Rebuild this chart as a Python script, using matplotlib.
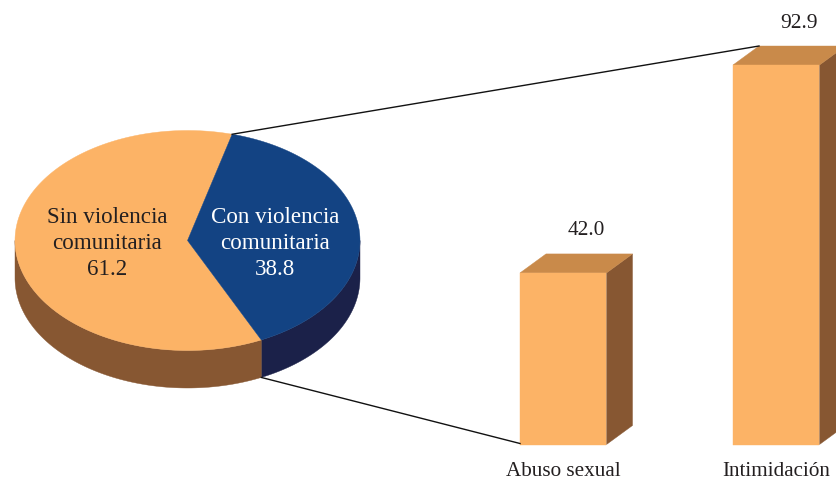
import numpy as np
import matplotlib
matplotlib.use("Agg")
import matplotlib.pyplot as plt
from matplotlib.patches import Polygon

# data
pie_labels = ["Sin violencia\ncomunitaria", "Con violencia\ncomunitaria"]
pie_values = [61.2, 38.8]
bar_labels = ["Abuso sexual", "Intimidación"]
bar_values = [42.0, 92.9]

ORANGE = "#FCB366"
ORANGE_TOP = "#C98A4A"
BROWN = "#875732"
BLUE = "#134383"
NAVY = "#1B2149"
TEXT = "#231F20"

plt.rcParams["font.family"] = ["Liberation Serif", "DejaVu Serif"]

# layout, in figure pixels
cx, cy, rx, ry, depth = 187.5, 240.5, 172.5, 110.0, 37.5
start_angle = 75.0
bar_lefts = [520, 733]
bar_width = 86.5
bar_base = 444.5
px_per_unit = 4.085
dx, dy = 26, 19


def ellipse(t_deg, shift=0.0):
    t = np.radians(t_deg)
    return np.column_stack([cx + rx * np.cos(t), cy - ry * np.sin(t) + shift])


fig = plt.figure(figsize=(8.37, 4.78), dpi=100)
ax = fig.add_axes([0, 0, 1, 1])
ax.set_xlim(0, 837)
ax.set_ylim(478, 0)
ax.axis("off")

# pie
blue_sweep = pie_values[1] / sum(pie_values) * 360
end_angle = start_angle - blue_sweep

arc = np.linspace(end_angle, 0, 80)
ax.add_patch(Polygon(np.vstack([ellipse(arc), ellipse(arc[::-1], depth)]), fc=NAVY, ec=NAVY, lw=0.3))
arc = np.linspace(-180, end_angle, 160)
ax.add_patch(Polygon(np.vstack([ellipse(arc), ellipse(arc[::-1], depth)]), fc=BROWN, ec=BROWN, lw=0.3))

arc = np.linspace(start_angle, start_angle + 360 - blue_sweep, 300)
ax.add_patch(Polygon(np.vstack([[[cx, cy]], ellipse(arc)]), fc=ORANGE, ec=ORANGE, lw=0.3))
arc = np.linspace(end_angle, start_angle, 120)
ax.add_patch(Polygon(np.vstack([[[cx, cy]], ellipse(arc)]), fc=BLUE, ec=BLUE, lw=0.3))

pie_text_x = [107.5, 275]
pie_text_colors = [TEXT, "white"]
for label, value, x, color in zip(pie_labels, pie_values, pie_text_x, pie_text_colors):
    ax.text(x, 243.5, f"{label}\n{value:.1f}", ha="center", va="center", fontsize=16.6,
            color=color, linespacing=1.3, multialignment="center")

# bars
for left, value, label in zip(bar_lefts, bar_values, bar_labels):
    top = bar_base - value * px_per_unit
    right = left + bar_width
    ax.add_patch(Polygon([(right, top), (right + dx, top - dy), (right + dx, bar_base - dy), (right, bar_base)],
                         fc=BROWN, ec=BROWN, lw=0.3))
    ax.add_patch(Polygon([(left, top), (left + dx, top - dy), (right + dx, top - dy), (right, top)],
                         fc=ORANGE_TOP, ec=ORANGE_TOP, lw=0.3))
    ax.add_patch(Polygon([(left, top), (right, top), (right, bar_base), (left, bar_base)],
                         fc=ORANGE, ec=ORANGE, lw=0.3))
    ax.text(left + 66.5, top - 37.5, f"{value:.1f}", ha="center", va="baseline", fontsize=15.4, color=TEXT)
    ax.text(left + 43.5, 476, label, ha="center", va="baseline", fontsize=15.2, color=TEXT)

# connector lines
line_top = ellipse(np.array([start_angle]))[0]
line_bottom = ellipse(np.array([end_angle]), depth)[0]
high_top = bar_base - bar_values[1] * px_per_unit - dy
ax.plot([line_top[0], bar_lefts[1] + dx], [line_top[1], high_top], color="#111111", lw=1.0)
ax.plot([line_bottom[0], bar_lefts[0]], [line_bottom[1], bar_base - 1], color="#111111", lw=1.0)

fig.savefig("out.png", dpi=100)
